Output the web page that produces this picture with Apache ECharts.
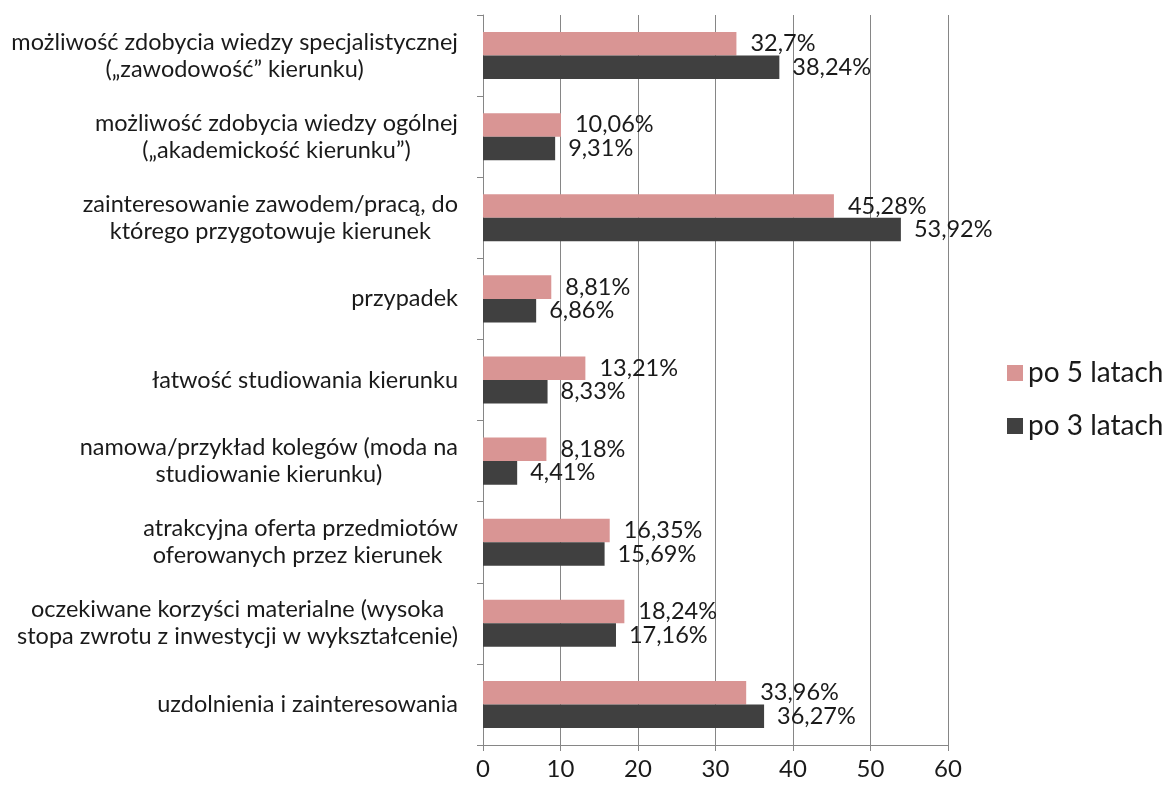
<!DOCTYPE html>
<html>
<head>
<meta charset="utf-8">
<script src="https://cdn.jsdelivr.net/npm/echarts@6/dist/echarts.min.js"></script>
<style>
  html, body { margin: 0; padding: 0; background: #fff; }
  #myChart { width: 1168px; height: 790px; }
</style>
</head>
<body>
<div id="myChart"></div>
<script>
  // kategorie od góry do dołu
  var categories = [
    'możliwość zdobycia wiedzy specjalistycznej\n(„zawodowość” kierunku)',
    'możliwość zdobycia wiedzy ogólnej\n(„akademickość kierunku”)',
    'zainteresowanie zawodem/pracą, do\nktórego przygotowuje kierunek',
    'przypadek',
    'łatwość studiowania kierunku',
    'namowa/przykład kolegów (moda na\nstudiowanie kierunku)',
    'atrakcyjna oferta przedmiotów\noferowanych przez kierunek ',
    'oczekiwane korzyści materialne (wysoka\nstopa zwrotu z inwestycji w wykształcenie)',
    'uzdolnienia i zainteresowania'
  ];
  var po5 = [32.7, 10.06, 45.28, 8.81, 13.21, 8.18, 16.35, 18.24, 33.96];
  var po3 = [38.24, 9.31, 53.92, 6.86, 8.33, 4.41, 15.69, 17.16, 36.27];
  var xTicks = [0, 60, 10];

  var font = 'Lato, "DejaVu Sans", sans-serif';

  function pct(p) {
    return String(p.value).replace('.', ',') + '%';
  }

  var myChart = echarts.init(document.getElementById('myChart'));
  myChart.setOption({
    animation: false,
    textStyle: { fontFamily: font },
    legend: {
      orient: 'vertical',
      left: 1002,
      top: 354,
      itemWidth: 16,
      itemHeight: 16,
      itemGap: 25,
      icon: 'rect',
      textStyle: { fontSize: 28, color: '#1a1a1a', fontFamily: font },
      data: ['po 5 latach', 'po 3 latach']
    },
    grid: { left: 483, right: 220, top: 15, bottom: 45 },
    xAxis: {
      type: 'value',
      min: xTicks[0],
      max: xTicks[1],
      interval: xTicks[2],
      axisLine: { show: true, lineStyle: { color: '#868686' } },
      axisTick: { show: true, length: 6, lineStyle: { color: '#868686' } },
      splitLine: { show: true, lineStyle: { color: '#868686' } },
      axisLabel: { fontSize: 24, color: '#1a1a1a', margin: 12, fontFamily: font }
    },
    yAxis: {
      type: 'category',
      inverse: true,
      data: categories,
      axisLine: { show: true, lineStyle: { color: '#868686' } },
      axisTick: { show: true, length: 6, lineStyle: { color: '#868686' } },
      axisLabel: {
        fontSize: 23.5,
        color: '#1a1a1a',
        margin: 25,
        lineHeight: 27,
        fontFamily: font,
        formatter: function (v) {
          return v.split('\n').map(function (s) { return '{c|' + s + '}'; }).join('\n');
        },
        rich: {
          c: { align: 'center', fontSize: 23.5, lineHeight: 27, color: '#1a1a1a', fontFamily: font }
        }
      }
    },
    series: [
      {
        name: 'po 5 latach',
        type: 'bar',
        data: po5,
        barGap: '0%',
        barCategoryGap: '42%',
        itemStyle: { color: '#d99594' },
        label: {
          show: true, position: 'right', distance: 14,
          fontSize: 23.5, color: '#1a1a1a', fontFamily: font, formatter: pct
        }
      },
      {
        name: 'po 3 latach',
        type: 'bar',
        data: po3,
        barGap: '0%',
        barCategoryGap: '42%',
        itemStyle: { color: '#404040' },
        label: {
          show: true, position: 'right', distance: 13,
          fontSize: 23.5, color: '#1a1a1a', fontFamily: font, formatter: pct
        }
      }
    ]
  });
</script>
</body>
</html>
